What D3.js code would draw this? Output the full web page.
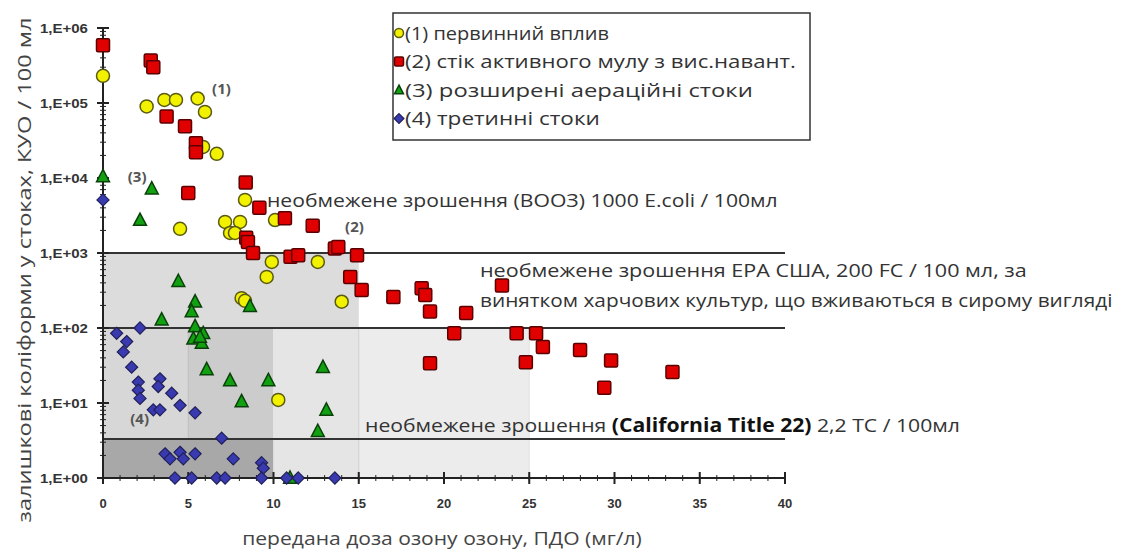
<!DOCTYPE html>
<html>
<head>
<meta charset="utf-8">
<script src="https://cdn.jsdelivr.net/npm/d3@7"></script>
<style>
  html, body { margin: 0; padding: 0; background: #fff; }
  svg { display: block; }
  text { font-family: "Open Sans", "Noto Sans", sans-serif; }
</style>
</head>
<body>
<svg id="chart" width="1131" height="550"></svg>
<script>
// ---------- DATA ----------
const xTicks = [0, 5, 10, 15, 20, 25, 30, 35, 40];
const yTickValues = [1, 10, 100, 1000, 10000, 100000, 1000000];
const yTickLabels = ["1,E+00", "1,E+01", "1,E+02", "1,E+03", "1,E+04", "1,E+05", "1,E+06"];

const seriesNames = [
  "(1) первинний вплив",
  "(2) стік активного мулу з вис.навант.",
  "(3) розширені аераційні стоки",
  "(4) третинні стоки"
];

// [ozone dose mg/l, coliforms CFU/100 ml]
const primary = [
  [0, 2.3e5], [2.56, 9e4], [3.6, 1.1e5], [4.28, 1.1e5], [5.55, 1.15e5], [5.98, 7.6e4],
  [5.87, 2.6e4], [6.67, 2.1e4], [8.33, 5.1e3], [4.52, 2.1e3], [7.16, 2.6e3], [8.04, 2.6e3],
  [10.09, 2.75e3], [7.45, 1.85e3], [7.74, 1.85e3], [9.9, 760], [9.6, 480], [8.13, 250],
  [8.33, 230], [12.6, 760], [14.0, 224], [10.28, 11]
];
const activatedSludge = [
  [0, 5.9e5], [2.8, 3.7e5], [2.95, 3.0e5], [3.73, 6.6e4], [4.81, 4.9e4], [5.45, 2.9e4],
  [5.45, 2.2e4], [5.0, 6.3e3], [8.37, 8.7e3], [9.17, 4.0e3], [10.67, 2.9e3], [12.3, 2.3e3],
  [8.4, 1.6e3], [8.5, 1.4e3], [8.8, 1.0e3], [11.0, 890], [11.45, 930], [13.6, 1.15e3],
  [13.8, 1.2e3], [14.9, 930], [14.5, 480], [15.17, 320], [17.03, 260], [18.69, 340],
  [18.9, 275], [19.18, 166], [21.3, 158], [23.4, 370], [20.6, 85], [24.26, 85], [25.4, 85],
  [25.8, 56], [19.18, 34], [24.8, 35], [27.98, 51], [29.8, 37], [29.4, 16], [33.4, 26]
];
const extendedAeration = [
  [0, 1.05e4], [2.86, 7.2e3], [2.17, 2.75e3], [4.42, 420], [5.4, 224], [5.2, 166],
  [3.44, 129], [8.62, 195], [5.4, 105], [5.88, 85], [5.3, 72], [5.79, 63], [5.69, 76],
  [6.08, 28], [7.45, 20], [9.7, 20], [8.13, 10.5], [12.9, 30], [13.1, 8.1], [12.6, 4.2],
  [10.97, 1]
];
const tertiary = [
  [0, 5.1e3], [0.8, 85], [2.17, 100], [1.39, 66], [1.19, 48], [1.68, 30], [2.07, 19],
  [3.34, 21], [3.24, 16.6], [2.07, 14.8], [2.17, 11.5], [4.03, 13.5], [4.52, 9.3],
  [2.95, 8.1], [3.34, 8.1], [5.4, 7.4], [6.96, 3.4], [3.64, 2.1], [3.93, 1.8], [4.52, 2.2],
  [4.71, 1.8], [5.4, 2.1], [7.64, 1.8], [9.3, 1.6], [9.4, 1.35],
  [4.22, 1], [5.2, 1], [6.67, 1], [7.16, 1], [9.3, 1], [10.77, 1], [11.45, 1], [13.6, 1]
];

// guideline levels
const limitLevels = [1000, 100, 3.3];
// shaded zones: [x0, x1, yLow, yHigh, fill]
const zones = [
  [0, 15, 100, 1000, "#dcdcdc"],
  [0, 5, 3.3, 100, "#d7d7d7"],
  [5, 10, 3.3, 100, "#cccccc"],
  [0, 10, 1, 3.3, "#a8a8a8"],
  [10, 15, 1, 100, "#e5e5e5"],
  [15, 25, 1, 100, "#ececec"]
];

// ---------- SCALES ----------
const svg = d3.select("#chart");
const x = d3.scaleLinear().domain([0, 40]).range([103, 785]);
const y = d3.scaleLog().domain([1, 1e6]).range([478, 28]);

// stretch a text horizontally to a target width (reference font is wider)
function fit(sel, target) {
  const w = sel.node().getComputedTextLength();
  const x0 = +sel.attr("x");
  sel.attr("transform", `translate(${x0},0) scale(${target / w},1) translate(${-x0},0)`);
}

// zones
svg.append("g").selectAll("rect").data(zones).join("rect")
  .attr("x", d => x(d[0])).attr("width", d => x(d[1]) - x(d[0]))
  .attr("y", d => y(d[3])).attr("height", d => y(d[2]) - y(d[3]))
  .attr("fill", d => d[4]);
svg.append("g").selectAll("line").data([[5, 3.3, 100, "#bcbcbc"], [15, 1, 100, "#cfcfcf"], [25, 1, 100, "#e2e2e2"]]).join("line")
  .attr("x1", d => x(d[0])).attr("x2", d => x(d[0]))
  .attr("y1", d => y(d[1])).attr("y2", d => y(d[2]))
  .attr("stroke", d => d[3]).attr("stroke-width", 1);

// limit lines
svg.append("g").selectAll("line").data(limitLevels).join("line")
  .attr("x1", x(0)).attr("x2", x(40))
  .attr("y1", d => y(d)).attr("y2", d => y(d))
  .attr("stroke", "#333").attr("stroke-width", 2);

// ---------- AXES ----------
const axisCol = "#222";
const yAxis = svg.append("g");
yAxis.append("line").attr("x1", x(0)).attr("x2", x(0)).attr("y1", y(1e6)).attr("y2", y(1))
  .attr("stroke", axisCol).attr("stroke-width", 2);
const minorY = [];
for (let e = 0; e < 6; e++) for (let m = 2; m <= 9; m++) minorY.push(m * Math.pow(10, e));
yAxis.selectAll(".ymin").data(minorY).join("line")
  .attr("x1", x(0) - 3).attr("x2", x(0) + 3)
  .attr("y1", d => y(d)).attr("y2", d => y(d))
  .attr("stroke", axisCol).attr("stroke-width", 1);
yAxis.selectAll(".ymaj").data(yTickValues).join("line")
  .attr("x1", x(0) - 6).attr("x2", x(0) + 6)
  .attr("y1", d => y(d)).attr("y2", d => y(d))
  .attr("stroke", axisCol).attr("stroke-width", 2);
yAxis.selectAll("text").data(yTickValues).join("text")
  .attr("x", 40).attr("y", d => y(d)).attr("dy", "0.35em")
  .attr("text-anchor", "start")
  .style("font-family", "'Liberation Sans', Arial, sans-serif")
  .style("font-weight", "bold").style("font-size", "13px").attr("fill", "#333")
  .text((d, i) => yTickLabels[i])
  .each(function () { fit(d3.select(this), 48); });

const xAxis = svg.append("g");
xAxis.append("line").attr("x1", x(0)).attr("x2", x(40)).attr("y1", y(1)).attr("y2", y(1))
  .attr("stroke", axisCol).attr("stroke-width", 2);
xAxis.selectAll(".xmin").data(d3.range(0, 41)).join("line")
  .attr("x1", d => x(d)).attr("x2", d => x(d))
  .attr("y1", y(1) - 3).attr("y2", y(1) + 3)
  .attr("stroke", axisCol).attr("stroke-width", 1);
xAxis.selectAll(".xmaj").data(xTicks).join("line")
  .attr("x1", d => x(d)).attr("x2", d => x(d))
  .attr("y1", y(1) - 6).attr("y2", y(1) + 6)
  .attr("stroke", axisCol).attr("stroke-width", 2);
xAxis.selectAll("text").data(xTicks).join("text")
  .attr("x", d => x(d)).attr("y", 508)
  .attr("text-anchor", "middle")
  .style("font-family", "'Liberation Sans', Arial, sans-serif")
  .style("font-weight", "bold").style("font-size", "13px").attr("fill", "#333")
  .text(d => d);

// axis titles
const xt = svg.append("text").attr("x", 442).attr("y", 545).attr("text-anchor", "middle")
  .style("font-size", "19px").attr("fill", "#444")
  .text("передана доза озону озону, ПДО (мг/л)");
fit(xt, 400);
svg.append("text").attr("transform", "translate(31,270) rotate(-90)").attr("text-anchor", "middle")
  .style("font-size", "19px").attr("fill", "#444")
  .attr("textLength", 505).attr("lengthAdjust", "spacingAndGlyphs")
  .text("залишкові коліформи у стоках, КУО / 100 мл");

// ---------- MARKERS ----------
function drawMarker(sel, kind, size) {
  if (kind === 0) {
    sel.append("circle").attr("r", size * 0.5).attr("fill", "#f2f200").attr("stroke", "#5a5a10").attr("stroke-width", 1.5);
  } else if (kind === 1) {
    sel.append("rect").attr("x", -size / 2).attr("y", -size / 2).attr("width", size).attr("height", size)
      .attr("rx", 1.5).attr("fill", "#e00000").attr("stroke", "#5a0000").attr("stroke-width", 1.5);
  } else if (kind === 2) {
    const h = size * 0.9;
    sel.append("path").attr("d", `M0,${-h * 0.6}L${h * 0.55},${h * 0.45}L${-h * 0.55},${h * 0.45}Z`)
      .attr("fill", "#10a010").attr("stroke", "#0a400a").attr("stroke-width", 1.5);
  } else {
    const r = size * 0.55;
    sel.append("path").attr("d", `M0,${-r}L${r},0L0,${r}L${-r},0Z`)
      .attr("fill", "#3a3ab0").attr("stroke", "#20205a").attr("stroke-width", 1.2);
  }
}
const allSeries = [primary, activatedSludge, extendedAeration, tertiary];
const sizes = [13, 13, 13, 11];
allSeries.forEach((data, k) => {
  const g = svg.append("g");
  g.selectAll("g").data(data).join("g")
    .attr("transform", d => `translate(${x(d[0])},${y(d[1])})`)
    .each(function () { drawMarker(d3.select(this), k, sizes[k]); });
});

// series labels
const seriesTags = [["(1)", 1.3e5, 6.4], ["(2)", 1.9e3, 14.2], ["(3)", 8.9e3, 1.45], ["(4)", 5.2, 1.6]];
svg.append("g").selectAll("text").data(seriesTags).join("text")
  .attr("x", d => x(d[2])).attr("y", d => y(d[1]))
  .style("font-size", "15px").style("font-weight", "bold").attr("fill", "#555")
  .text(d => d[0]);

// ---------- ANNOTATIONS ----------
const a1 = svg.append("text").attr("x", 267).attr("y", 207).style("font-size", "19px").attr("fill", "#333")
  .text("необмежене зрошення (ВООЗ) 1000 E.coli / 100мл");
fit(a1, 511);
const a2 = svg.append("text").attr("x", 480).attr("y", 277).style("font-size", "19px").attr("fill", "#333")
  .text("необмежене зрошення ЕРА США, 200 FC / 100 мл, за");
fit(a2, 547);
const a3 = svg.append("text").attr("x", 480).attr("y", 307).style("font-size", "19px").attr("fill", "#333")
  .text("винятком харчових культур, що вживаються в сирому вигляді");
fit(a3, 633);
const ca = svg.append("text").attr("x", 365).attr("y", 432).style("font-size", "19px").attr("fill", "#333");
ca.append("tspan").text("необмежене зрошення ");
ca.append("tspan").style("font-weight", "bold").attr("fill", "#111").text("(California Title 22)");
ca.append("tspan").text(" 2,2 TC / 100мл");
fit(ca, 595);

// ---------- LEGEND ----------
const legendWidths = [204, 391, 348, 195];
const lg = svg.append("g");
lg.append("rect").attr("x", 393).attr("y", 13).attr("width", 417).attr("height", 127)
  .attr("fill", "#fff").attr("stroke", "#333").attr("stroke-width", 1.5);
seriesNames.forEach((name, k) => {
  const yy = 33 + k * 28.5;
  const m = lg.append("g").attr("transform", `translate(399,${yy})`);
  drawMarker(m, k, 9);
  const t = lg.append("text").attr("x", 405).attr("y", yy).attr("dy", "0.35em")
    .style("font-size", "19px").attr("fill", "#333").text(name);
  fit(t, legendWidths[k]);
});
</script>
</body>
</html>
